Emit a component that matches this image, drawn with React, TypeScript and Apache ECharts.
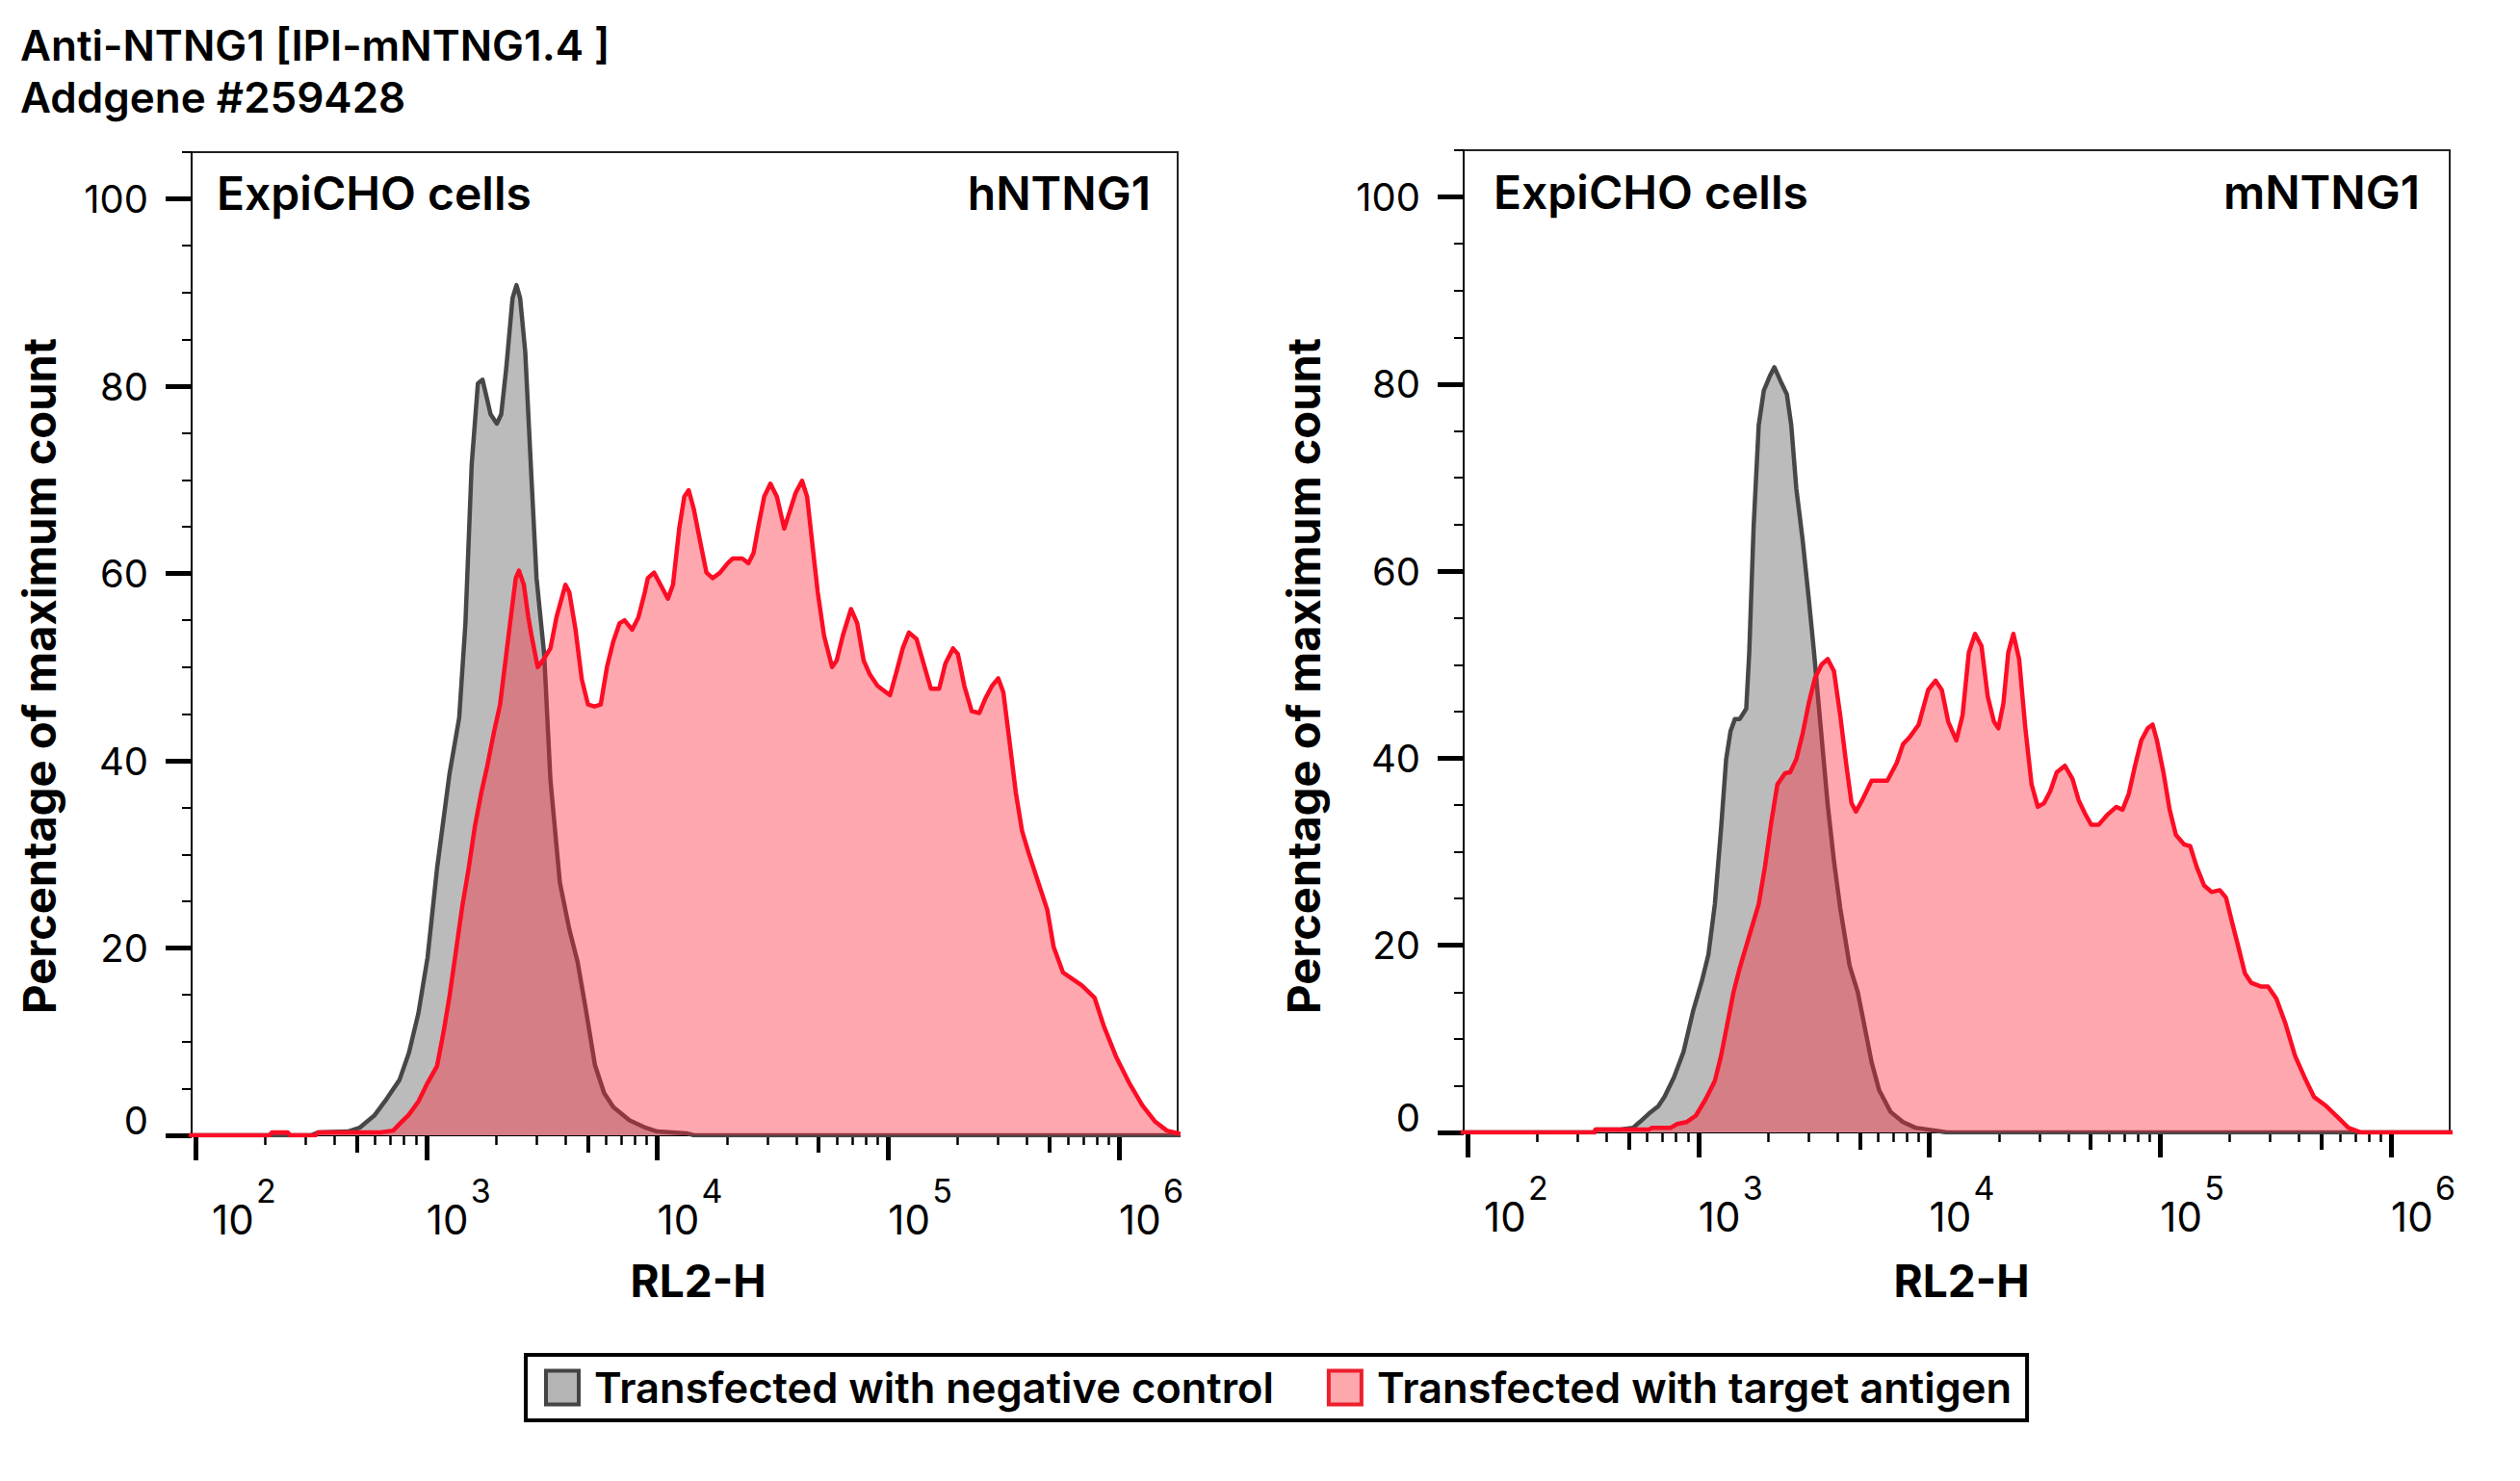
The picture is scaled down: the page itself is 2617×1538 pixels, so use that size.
import React, { useEffect, useRef } from 'react';
import * as echarts from 'echarts';

// [log10(RL2-H), percentage of maximum count]
const hNegative: [number, number][] = [
  [1.95, 0], [2.5, 0], [2.53, 0.3], [2.66, 0.4], [2.71, 0.8], [2.774, 2.1], [2.828, 3.9], [2.883, 5.9],
  [2.924, 8.8], [2.965, 13], [3.005, 19], [3.046, 28.5], [3.1, 38.6], [3.142, 44.6], [3.169, 54.7],
  [3.196, 71.6], [3.223, 80.3], [3.243, 80.7], [3.278, 77], [3.305, 76], [3.324, 77], [3.346, 82],
  [3.373, 89.4], [3.39, 90.8], [3.406, 89.4], [3.428, 83.7], [3.455, 70.2], [3.477, 59.5], [3.51, 51.4],
  [3.537, 38], [3.578, 27], [3.619, 22], [3.655, 18.5], [3.69, 13.5], [3.73, 7.5], [3.77, 4.5],
  [3.81, 3], [3.88, 1.6], [3.95, 0.8], [4.0, 0.4], [4.13, 0.2], [4.16, 0], [6.3, 0],
];

const hTarget: [number, number][] = [
  [1.95, 0], [2.32, 0], [2.33, 0.3], [2.4, 0.3], [2.41, 0], [2.52, 0], [2.53, 0.3], [2.8, 0.3],
  [2.856, 0.5], [2.883, 1.2], [2.924, 2.2], [2.965, 3.6], [3.005, 5.6], [3.046, 7.4], [3.074, 11],
  [3.101, 15], [3.128, 19.7], [3.155, 24.4], [3.183, 28.5], [3.21, 33], [3.237, 36.5], [3.264, 39.5],
  [3.292, 43], [3.319, 46], [3.346, 51.4], [3.373, 56.8], [3.387, 59.5], [3.401, 60.3], [3.422, 58.8],
  [3.441, 55.4], [3.455, 53.4], [3.482, 50], [3.504, 50.7], [3.537, 52], [3.564, 55.4], [3.602, 58.8],
  [3.619, 58], [3.646, 54], [3.673, 48.7], [3.7, 46], [3.728, 45.8], [3.755, 46], [3.782, 50],
  [3.809, 52.7], [3.837, 54.7], [3.858, 55], [3.891, 54], [3.918, 55.3], [3.946, 58], [3.959, 59.5],
  [3.986, 60.1], [4.014, 58.8], [4.046, 57.3], [4.068, 58.8], [4.095, 64.8], [4.117, 68.2], [4.136, 68.9],
  [4.158, 66.9], [4.185, 63.5], [4.213, 60.1], [4.24, 59.5], [4.272, 60.1], [4.305, 61.1], [4.327, 61.6],
  [4.368, 61.6], [4.395, 61.1], [4.417, 62.2], [4.436, 64.8], [4.463, 68.2], [4.49, 69.6], [4.518, 68.2],
  [4.55, 64.8], [4.572, 66.5], [4.599, 68.6], [4.627, 69.9], [4.649, 68.2], [4.676, 62.2], [4.695, 58],
  [4.722, 53.4], [4.757, 50], [4.777, 50.7], [4.804, 53.4], [4.839, 56.2], [4.866, 54.7], [4.894, 50.7],
  [4.921, 49.2], [4.954, 48], [5.008, 47], [5.035, 49.4], [5.063, 52], [5.09, 53.7], [5.123, 53],
  [5.158, 50], [5.185, 47.7], [5.221, 47.7], [5.248, 50.4], [5.281, 52], [5.302, 51.4], [5.33, 48],
  [5.362, 45.3], [5.395, 45.1], [5.422, 46.7], [5.45, 48], [5.477, 48.8], [5.499, 47.3], [5.526, 42],
  [5.553, 36.6], [5.58, 32.5], [5.608, 30.2], [5.649, 27.1], [5.689, 24.1], [5.717, 20.1], [5.757, 17.4],
  [5.798, 16.7], [5.839, 16], [5.894, 14.7], [5.935, 11.6], [5.989, 8.3], [6.044, 5.6], [6.101, 3.2],
  [6.155, 1.5], [6.207, 0.5], [6.256, 0.2], [6.3, 0],
];

const mNegative: [number, number][] = [
  [1.95, 0], [2.55, 0], [2.554, 0.3], [2.663, 0.3], [2.717, 0.5], [2.745, 1.1], [2.785, 2], [2.826, 2.8],
  [2.853, 3.8], [2.894, 5.9], [2.935, 8.6], [2.976, 12.9], [3.016, 16.3], [3.043, 19], [3.071, 24.4],
  [3.098, 32.5], [3.12, 39.9], [3.139, 42.9], [3.158, 44.2], [3.179, 44.2], [3.207, 45.3], [3.22, 51.3],
  [3.239, 64.8], [3.261, 75.6], [3.283, 79.3], [3.31, 80.9], [3.329, 81.8], [3.356, 80.3], [3.383, 78.9],
  [3.402, 75.6], [3.424, 68.8], [3.451, 63.4], [3.478, 57], [3.5, 51.5], [3.519, 46.2], [3.538, 41],
  [3.56, 35], [3.587, 29], [3.614, 24], [3.655, 17.8], [3.69, 15], [3.723, 10.9], [3.75, 7.5],
  [3.783, 4.5], [3.832, 2.2], [3.886, 1.1], [3.94, 0.5], [4.049, 0.1], [4.076, 0], [6.3, 0],
];

const mTarget: [number, number][] = [
  [1.95, 0], [2.55, 0], [2.554, 0.3], [2.785, 0.3], [2.799, 0.5], [2.88, 0.5], [2.908, 0.9], [2.948, 1.1],
  [2.989, 1.8], [3.03, 3.5], [3.071, 5.5], [3.098, 8.2], [3.125, 11.6], [3.152, 15], [3.179, 17.6],
  [3.22, 21], [3.261, 24.4], [3.288, 28.4], [3.315, 33.1], [3.342, 37.2], [3.375, 38.4], [3.397, 38.5],
  [3.424, 39.9], [3.451, 42.6], [3.478, 45.9], [3.505, 48.6], [3.533, 50], [3.56, 50.6], [3.587, 49.3],
  [3.614, 44.6], [3.641, 39.2], [3.663, 35.2], [3.682, 34.3], [3.709, 35.5], [3.75, 37.6], [3.818, 37.6],
  [3.859, 39.5], [3.886, 41.5], [3.913, 42.2], [3.954, 43.6], [3.995, 47.3], [4.027, 48.3], [4.054, 47.3],
  [4.082, 43.9], [4.117, 41.9], [4.144, 44.6], [4.171, 51.3], [4.198, 53.3], [4.226, 52], [4.253, 46.6],
  [4.28, 43.9], [4.299, 43.2], [4.321, 45.9], [4.342, 51.3], [4.364, 53.3], [4.389, 50.6], [4.416, 43.2],
  [4.443, 37.2], [4.47, 34.8], [4.497, 35.2], [4.524, 36.5], [4.552, 38.5], [4.587, 39.2], [4.62, 37.8],
  [4.647, 35.5], [4.674, 34.1], [4.701, 32.9], [4.734, 32.9], [4.769, 33.9], [4.81, 34.8], [4.837, 34.5],
  [4.864, 36.2], [4.891, 39.2], [4.918, 41.9], [4.946, 43.2], [4.967, 43.6], [4.986, 41.9], [5.014, 38.5],
  [5.041, 34.5], [5.068, 31.8], [5.103, 30.8], [5.13, 30.6], [5.158, 28.4], [5.19, 26.4], [5.223, 25.7],
  [5.258, 25.9], [5.285, 25.1], [5.312, 22.4], [5.34, 19.7], [5.367, 17], [5.394, 16], [5.435, 15.6],
  [5.467, 15.6], [5.503, 14.3], [5.543, 11.6], [5.584, 8.2], [5.625, 5.9], [5.666, 3.8], [5.72, 2.8],
  [5.774, 1.5], [5.815, 0.5], [5.87, 0], [6.3, 0],
];

// axis ticks
const decadeTicks = [2, 3, 4, 5, 6];
const yTicks = [0, 20, 40, 60, 80, 100];
const X_MIN = 1.983;
const X_MAX = 6.254;
const Y_MAX = 105;

const NEG = 'Transfected with negative control';
const POS = 'Transfected with target antigen';
const FONT = 'Inter, "Liberation Sans", sans-serif';

const midTicks = [2, 3, 4, 5].map((d) => d + Math.log10(5));
const minorTicks = decadeTicks
  .flatMap((d) => [2, 3, 4, 6, 7, 8, 9].map((k) => d + Math.log10(k)))
  .filter((v) => v < X_MAX);
const yMinorTicks = Array.from({ length: 22 }, (_, i) => i * 5).filter((v) => v % 20 !== 0);

const xAxesFor = (gridIndex: number) => [
  {
    // decades, base "10" of each label
    type: 'value', gridIndex, min: X_MIN, max: X_MAX, position: 'bottom',
    axisLine: { show: true, onZero: false, lineStyle: { color: '#000', width: 2 } },
    axisTick: { show: true, customValues: decadeTicks, length: 26, lineStyle: { color: '#000', width: 5 } },
    axisLabel: {
      show: true, customValues: decadeTicks, align: 'left', verticalAlign: 'top', margin: 66,
      formatter: (v: number) => (Math.round(v) === 2 ? '{g|}' : '') + '{b|10}',
      rich: {
        g: { width: 17 },
        b: { fontFamily: FONT, fontSize: 42, lineHeight: 42, color: '#000' },
      },
    },
    splitLine: { show: false },
  },
  {
    // 5x ticks, plus the exponents of the decade labels
    type: 'value', gridIndex, min: X_MIN, max: X_MAX, position: 'bottom',
    axisLine: { show: false },
    axisTick: { show: true, customValues: midTicks, length: 18, lineStyle: { color: '#000', width: 4 } },
    axisLabel: {
      show: true, customValues: decadeTicks, align: 'left', verticalAlign: 'top', margin: 40,
      formatter: (v: number) => (Math.round(v) === 2 ? '{g|}' : '{o|}') + '{e|' + Math.round(v) + '}',
      rich: {
        g: { width: 63 },
        o: { width: 46 },
        e: { fontFamily: FONT, fontSize: 34, lineHeight: 34, color: '#000' },
      },
    },
    splitLine: { show: false },
  },
  {
    type: 'value', gridIndex, min: X_MIN, max: X_MAX, position: 'bottom',
    axisLine: { show: false },
    axisTick: { show: true, customValues: minorTicks, length: 10, lineStyle: { color: '#000', width: 2.5 } },
    axisLabel: { show: false, customValues: minorTicks },
    splitLine: { show: false },
  },
];

const yAxesFor = (gridIndex: number) => [
  {
    type: 'value', gridIndex, min: 0, max: Y_MAX, position: 'left',
    axisLine: { show: true, onZero: false, lineStyle: { color: '#000', width: 2 } },
    axisTick: { show: true, customValues: yTicks, length: 27, lineStyle: { color: '#000', width: 5 } },
    axisLabel: {
      show: true, customValues: yTicks, margin: 45,
      formatter: (v: number) => (v === 0 ? '{z|0}' : '{n|' + v + '}'),
      rich: {
        n: { fontFamily: FONT, fontSize: 40, color: '#000' },
        z: { fontFamily: FONT, fontSize: 40, color: '#000', padding: [0, 0, 32, 0] },
      },
    },
    splitLine: { show: false },
  },
  {
    type: 'value', gridIndex, min: 0, max: Y_MAX, position: 'left',
    axisLine: { show: false },
    axisTick: { show: true, customValues: yMinorTicks, length: 10, lineStyle: { color: '#000', width: 2 } },
    axisLabel: { show: false, customValues: yMinorTicks },
    splitLine: { show: false },
  },
];

const histSeries = (
  name: string, data: [number, number][], xAxisIndex: number, yAxisIndex: number,
  line: string, fill: string, z: number,
) => ({
  type: 'line', name, xAxisIndex, yAxisIndex, z,
  data: data.map(([e, p]) => [e, p]),
  symbol: 'none', showSymbol: false, silent: true, clip: true,
  lineStyle: { color: line, width: 4.5, join: 'round' },
  areaStyle: { color: fill, opacity: 1, origin: 'start' },
  itemStyle: { color: fill },
});

const txt = (
  x: number, y: number, text: string, fontSize: number, fontWeight: number,
  align = 'left', rotation = 0,
) => ({
  type: 'text', x, y, rotation, silent: true,
  style: { text, fontFamily: FONT, fontSize, fontWeight, fill: '#000', align, verticalAlign: 'middle' },
});

const App: React.FC = () => {
  const chartRef = useRef<HTMLDivElement>(null);

  useEffect(() => {
    const chart = echarts.init(chartRef.current!, undefined, { renderer: 'svg' });

    const option = {
      animation: false,
      backgroundColor: '#fff',
      grid: [
        { left: 199, top: 158, width: 1024, height: 1021, show: true, borderColor: '#222', borderWidth: 2 },
        { left: 1520, top: 156, width: 1024, height: 1020, show: true, borderColor: '#222', borderWidth: 2 },
      ],
      xAxis: [...xAxesFor(0), ...xAxesFor(1)],
      yAxis: [...yAxesFor(0), ...yAxesFor(1)],
      legend: {
        left: 546, top: 1407,
        selectedMode: false,
        icon: 'rect',
        itemWidth: 34, itemHeight: 35, itemGap: 55,
        padding: [12, 16, 12, 19],
        borderColor: '#000', borderWidth: 4,
        textStyle: { fontFamily: FONT, fontSize: 43.5, fontWeight: 600, color: '#000', padding: [0, 0, 0, 11] },
        data: [
          { name: NEG, itemStyle: { color: '#b4b4b4', borderColor: '#444', borderWidth: 4 } },
          { name: POS, itemStyle: { color: '#fca8ad', borderColor: '#ec1f2d', borderWidth: 4 } },
        ],
      },
      series: [
        histSeries(NEG, hNegative, 0, 0, '#474747', '#bbbbbb', 2),
        histSeries(POS, hTarget, 0, 0, '#fc0d25', 'rgba(255, 36, 52, 0.4)', 3),
        histSeries(NEG, mNegative, 3, 2, '#474747', '#bbbbbb', 2),
        histSeries(POS, mTarget, 3, 2, '#fc0d25', 'rgba(255, 36, 52, 0.4)', 3),
      ],
      graphic: [
        txt(21, 47, 'Anti-NTNG1 [IPI-mNTNG1.4 ]', 44, 600),
        txt(21, 101, 'Addgene #259428', 44, 600),
        txt(225, 200, 'ExpiCHO cells', 48, 600),
        txt(1195, 200, 'hNTNG1', 48, 600, 'right'),
        txt(1551, 199, 'ExpiCHO cells', 48, 600),
        txt(2513, 199, 'mNTNG1', 48, 600, 'right'),
        txt(40, 702, 'Percentage of maximum count', 47, 700, 'center', Math.PI / 2),
        txt(1353, 702, 'Percentage of maximum count', 47, 700, 'center', Math.PI / 2),
        txt(725, 1330, 'RL2-H', 46, 700, 'center'),
        txt(2037, 1330, 'RL2-H', 46, 700, 'center'),
      ],
    };

    chart.setOption(option);

    return () => {
      chart.dispose();
    };
  }, []);

  return (
    <div
      ref={chartRef}
      style={{ position: 'fixed', left: 0, top: 0, width: 2617, height: 1538, background: '#fff' }}
    />
  );
};

export default App;
